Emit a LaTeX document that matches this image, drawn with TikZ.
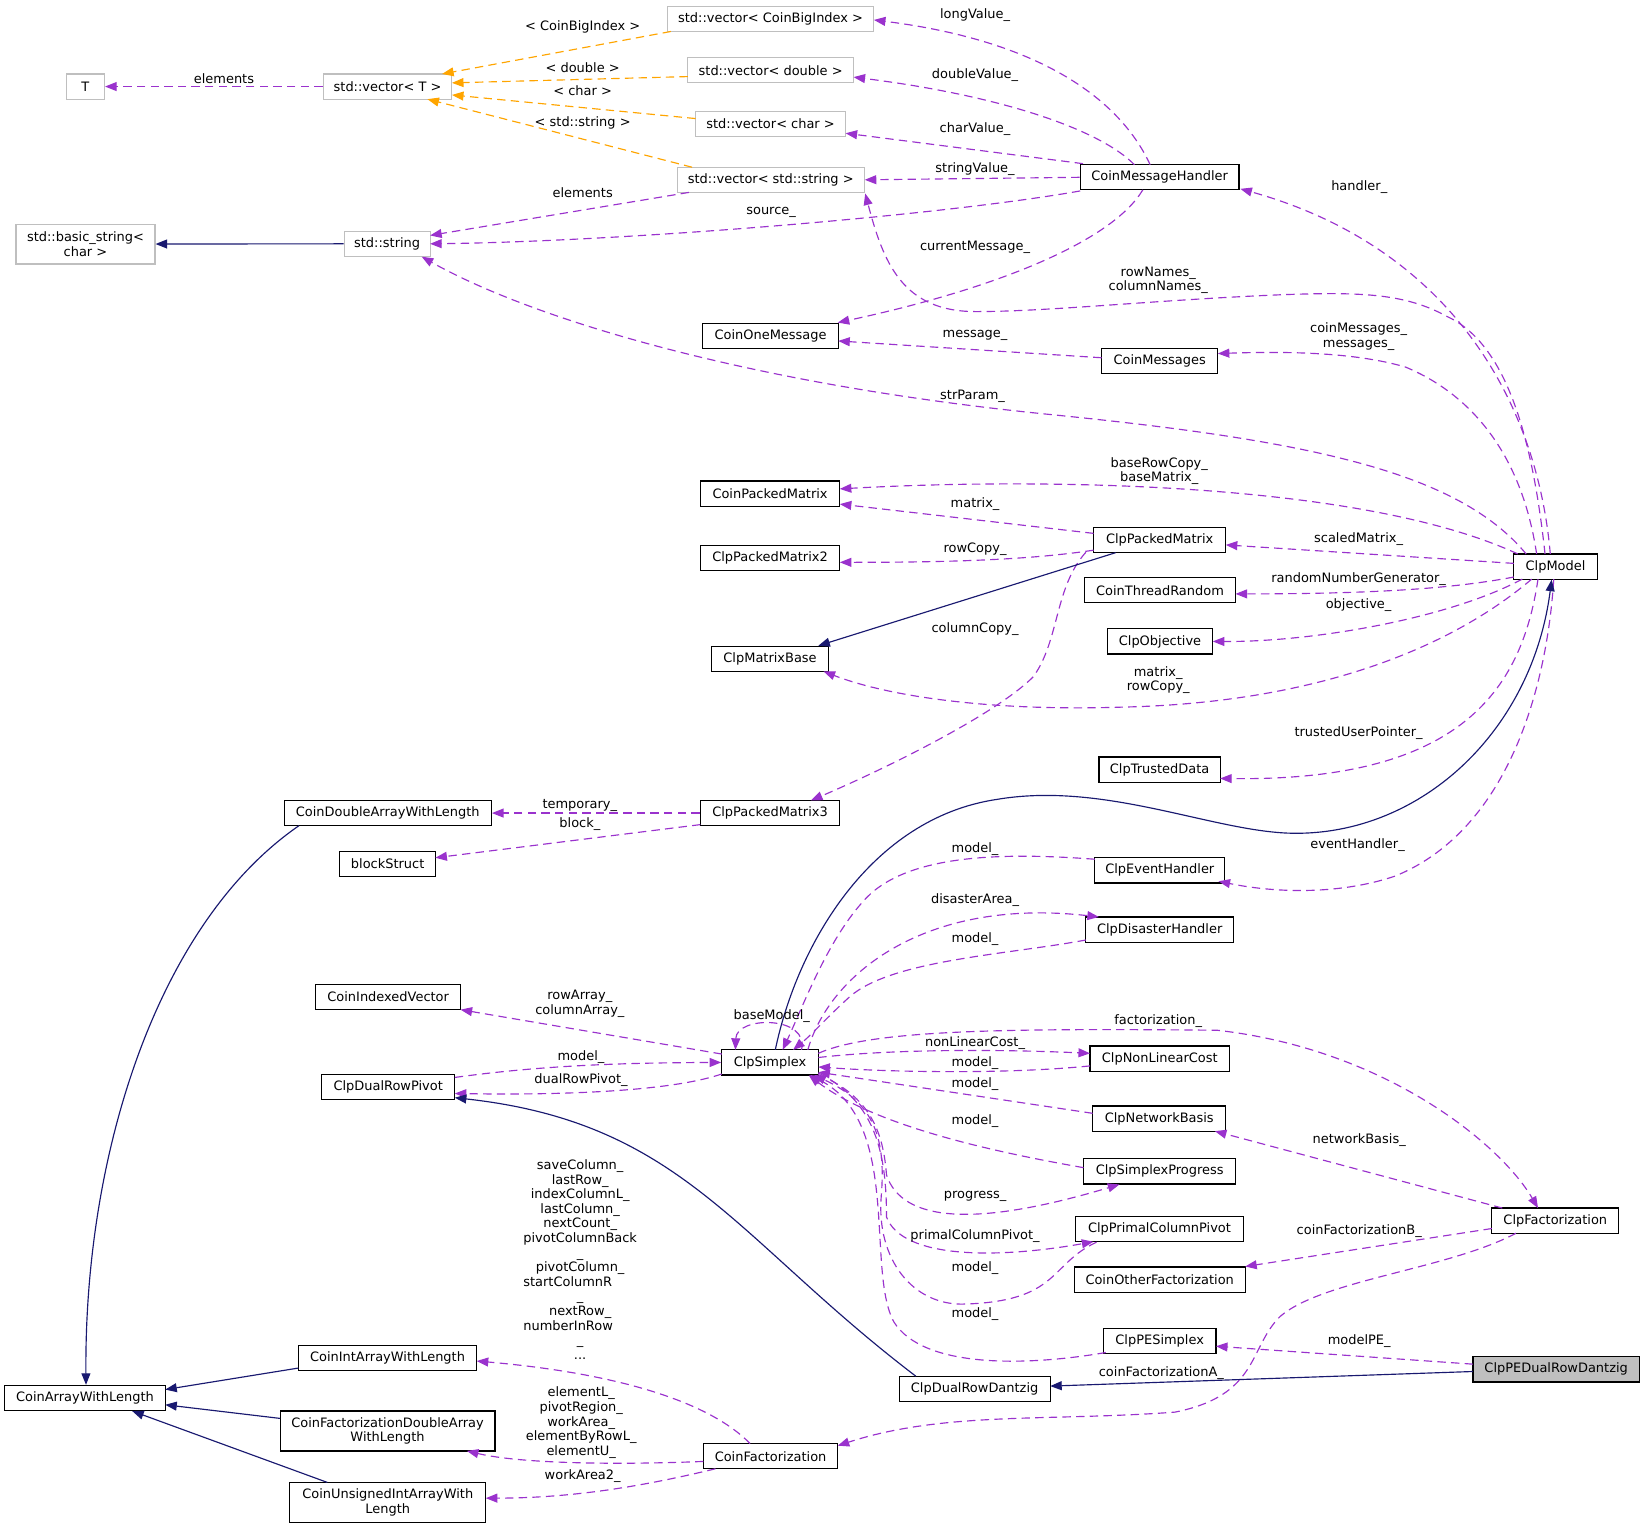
\documentclass[tikz,border=0pt]{standalone}
\usepackage{fontspec}
\setmainfont{DejaVu Sans}
\usetikzlibrary{arrows.meta,calc}
\definecolor{purp}{HTML}{9A32CD}
\definecolor{navyc}{HTML}{191970}
\definecolor{orng}{HTML}{FFA500}
\definecolor{boxgray}{HTML}{BFBFBF}
\newcommand\lblfont{\fontsize{12.35pt}{13.9pt}\selectfont}
\newcommand\leftln[1]{\makebox[0pt][l]{#1}\hphantom{pivotColumnBack}}
\begin{document}
\begin{tikzpicture}[x=1pt,y=-1pt,
  cls/.style={draw=black,line width=1.1pt,fill=white,minimum height=24pt,inner sep=1pt,align=center,font=\lblfont},
  ext/.style={cls,draw=boxgray},
  lab/.style={font=\lblfont,inner sep=0pt,align=center},
  arrowtip/.style={-{Triangle[length=11pt,width=8.5pt]}},
  usage/.style={arrowtip,draw=purp,line width=1.1pt,dash pattern=on 8pt off 5pt},
  inh/.style={arrowtip,draw=navyc,line width=1.1pt},
  tmpl/.style={arrowtip,draw=orng,line width=1.1pt,dash pattern=on 8pt off 5pt}
]
\useasboundingbox (0,0) rectangle (1568,1456);

% ---------- nodes ----------
\node[ext,minimum width=36.6pt] (T) at (81.3,82.5) {T};
\node[ext,minimum width=122.7pt] (vecT) at (369.4,82.5) {std::vector< T >};
\node[ext,minimum width=197pt] (vecCBI) at (734.5,18) {std::vector< CoinBigIndex >};
\node[ext,minimum width=158pt] (vecD) at (734.6,67) {std::vector< double >};
\node[ext,minimum width=143pt] (vecC) at (734.5,118) {std::vector< char >};
\node[ext,minimum width=178pt] (vecS) at (734.7,171.4) {std::vector< std::string >};
\node[ext,minimum width=132.4pt,minimum height=38pt] (basic) at (81.5,232.6) {std::basic\_string<\\char >};
\node[ext,minimum width=82pt] (str) at (369,232.4) {std::string};
\node[cls,minimum width=151.4pt] (CMH) at (1105.3,169) {CoinMessageHandler};
\node[cls,minimum width=129pt] (COM) at (734.5,320) {CoinOneMessage};
\node[cls,minimum width=110.7pt] (CMs) at (1105.4,344) {CoinMessages};
\node[cls,minimum width=133pt] (CPM) at (734,470.5) {CoinPackedMatrix};
\node[cls,minimum width=133pt] (CPM2) at (734,532) {ClpPackedMatrix2};
\node[cls,minimum width=126pt] (ClpPM) at (1105.4,514.4) {ClpPackedMatrix};
\node[cls,minimum width=144pt] (CTR) at (1105.7,562.6) {CoinThreadRandom};
\node[cls,minimum width=79.5pt] (ClpModel) at (1482.7,540) {ClpModel};
\node[cls,minimum width=100.7pt] (ClpObj) at (1105.7,611.4) {ClpObjective};
\node[cls,minimum width=111pt] (CMB) at (734,628) {ClpMatrixBase};
\node[cls,minimum width=115.4pt] (CTD) at (1105.3,733.5) {ClpTrustedData};
\node[cls,minimum width=197.6pt] (CDAWL) at (369.6,775) {CoinDoubleArrayWithLength};
\node[cls,minimum width=133pt] (CPM3) at (734,775) {ClpPackedMatrix3};
\node[cls,minimum width=91pt] (BS) at (369.5,823.6) {blockStruct};
\node[cls,minimum width=124pt] (CEH) at (1105.5,829.6) {ClpEventHandler};
\node[cls,minimum width=141.2pt] (CDH) at (1105.4,886) {ClpDisasterHandler};
\node[cls,minimum width=138pt] (CIV) at (370,950.4) {CoinIndexedVector};
\node[cls,minimum width=92pt] (CS) at (734,1012.7) {ClpSimplex};
\node[cls,minimum width=133pt] (CNLC) at (1105.5,1009) {ClpNonLinearCost};
\node[cls,minimum width=127pt] (CDRP) at (370,1036.3) {ClpDualRowPivot};
\node[cls,minimum width=127pt] (CNB) at (1105,1066.2) {ClpNetworkBasis};
\node[cls,minimum width=145pt] (CSP) at (1105.4,1116.5) {ClpSimplexProgress};
\node[cls,minimum width=121pt] (CFact) at (1482.5,1163.5) {ClpFactorization};
\node[cls,minimum width=160pt] (CPCP) at (1105.2,1171.6) {ClpPrimalColumnPivot};
\node[cls,minimum width=163pt] (COF) at (1105.4,1219.7) {CoinOtherFactorization};
\node[cls,minimum width=107.3pt] (CPES) at (1105.4,1278.2) {ClpPESimplex};
\node[cls,minimum width=169.7pt] (CIAWL) at (369.4,1294.3) {CoinIntArrayWithLength};
\node[cls,minimum width=158.6pt,fill=boxgray] (PEDRD) at (1483.3,1305.3) {ClpPEDualRowDantzig};
\node[cls,minimum width=153pt] (CAWL) at (81,1332.5) {CoinArrayWithLength};
\node[cls,minimum width=144pt] (CDRD) at (929,1324.2) {ClpDualRowDantzig};
\node[cls,minimum width=204.7pt,minimum height=38pt] (CFDAWL) at (369.4,1364) {CoinFactorizationDoubleArray\\WithLength};
\node[cls,minimum width=128pt] (CF) at (734.5,1388) {CoinFactorization};
\node[cls,minimum width=186.8pt,minimum height=38pt] (CUIAWL) at (369.6,1432) {CoinUnsignedIntArrayWith\\Length};

% ---------- template edges ----------
\draw[tmpl] ($(vecCBI)+(-95,12)$) -- ($(vecT)+(52,-12)$);
\draw[tmpl] ($(vecD)+(-79,6)$) -- ($(vecT)+(61.4,-3.5)$);
\draw[tmpl] ($(vecC)+(-71.5,-5)$) -- ($(vecT)+(61.4,8)$);
\draw[tmpl] ($(vecS)+(-75,-12)$) -- ($(vecT)+(38,12)$);

% ---------- usage edges ----------
\draw[usage] (vecT.west) -- (T.east);
\draw[usage] ($(vecS)+(-78,12)$) -- ($(str)+(41,-8)$);
\draw[usage] ($(CMH)+(-75.7,13)$) .. controls (900,205) and (600,230) .. ($(str)+(41,0)$);
\draw[usage] ($(CMH)+(-9,-12)$) .. controls (1070,100) and (1000,40) .. ($(vecCBI)+(98.5,1)$);
\draw[usage] ($(CMH)+(-24,-12)$) .. controls (1050,125) and (960,92) .. ($(vecD)+(79,6.5)$);
\draw[usage] ($(CMH)+(-73,-13)$) -- ($(vecC)+(71.5,9)$);
\draw[usage] (CMH.west) -- (vecS.east);
\draw[usage] ($(CMH)+(-16,12)$) .. controls (1060,230) and (950,275) .. ($(COM)+(64,-12.5)$);
\draw[usage] ($(ClpModel)+(-10,-12)$) .. controls (1462,430) and (1440,330) .. (1380,302) .. controls (1340,280) and (1300,278) .. (1220,281) .. controls (1100,286) and (1000,297) .. (930,297) .. controls (860,297) and (842,250) .. ($(vecS)+(90,13)$);
\draw[usage] ($(ClpModel)+(-5,-12)$) .. controls (1465,380) and (1380,235) .. ($(CMH)+(77,11)$);
\draw[usage] ($(CMs)+(-55.4,-3)$) -- ($(COM)+(64.5,5)$);
\draw[usage] ($(ClpModel)+(-18,-12)$) .. controls (1450,430) and (1400,375) .. (1340,350) .. controls (1290,335) and (1220,335) .. ($(CMs)+(55.4,-7)$);
\draw[usage] ($(ClpModel)+(-28,-12)$) .. controls (1390,450) and (1250,420) .. (1000,395) .. controls (700,365) and (500,300) .. ($(str)+(33,12.3)$);
\draw[usage] ($(ClpModel)+(-36,-12)$) .. controls (1300,460) and (1000,455) .. ($(CPM)+(66.5,-4.5)$);
\draw[usage] ($(ClpPM)+(-63,-6)$) -- ($(CPM)+(66.5,10)$);
\draw[usage] ($(ClpPM)+(-63,10)$) .. controls (980,534) and (900,536) .. ($(CPM2)+(66.5,4)$);
\draw[usage] ($(ClpModel)+(-39.7,-3)$) -- ($(ClpPM)+(63,5)$);
\draw[usage] ($(ClpModel)+(-39.7,10)$) .. controls (1380,562) and (1300,566) .. ($(CTR)+(72,3.5)$);
\draw[usage] ($(ClpModel)+(-31.7,12)$) .. controls (1380,590) and (1250,612) .. ($(ClpObj)+(50.3,0)$);
\draw[usage] ($(ClpModel)+(-22.7,12)$) .. controls (1380,620) and (1250,670) .. (1070,674) .. controls (950,678) and (850,665) .. ($(CMB)+(51,12)$);
\draw[usage] ($(ClpPM)+(-70.4,12)$) .. controls (1005,560) and (1010,610) .. (985,645) .. controls (950,680) and (850,730) .. ($(CPM3)+(39,-12)$);
\draw[usage] ($(ClpModel)+(-16.7,12)$) .. controls (1450,660) and (1390,745) .. ($(CTD)+(57.7,8.5)$);
\draw[usage] (CPM3.west) -- (CDAWL.east);
\draw[usage] ($(CPM3)+(-66.4,11)$) -- ($(BS)+(45.5,-6)$);
\draw[usage] ($(ClpModel)+(-1.7,12)$) .. controls (1475,650) and (1440,790) .. (1330,835) .. controls (1280,852) and (1220,852) .. ($(CEH)+(56,10.4)$);
\draw[usage] ($(CEH)+(-62,-10.6)$) .. controls (950,812) and (860,815) .. (822,860) .. controls (788,898) and (765,960) .. ($(CS)+(12,-12)$);
\draw[usage] ($(CS)+(36,-12)$) .. controls (790,930) and (880,855) .. ($(CDH)+(-58,-12)$);
\draw[usage] ($(CDH)+(-70.4,10)$) .. controls (960,910) and (850,915) .. (810,950) .. controls (790,968) and (775,985) .. ($(CS)+(22,-12)$);
\draw[usage] ($(CS)+(-46,-8)$) -- ($(CIV)+(69,12)$);
\draw[usage] ($(CS)+(30,-12)$) .. controls (772,968) and (702,968) .. ($(CS)+(-33,-12)$);
\draw[usage] ($(CS)+(46,-8.7)$) .. controls (830,982) and (950,980) .. (1160,982) .. controls (1320,1000) and (1430,1090) .. ($(CFact)+(-16.5,-12)$);
\draw[usage] ($(CS)+(46,-4.7)$) .. controls (850,1000) and (950,1000) .. ($(CNLC)+(-66.5,-5)$);
\draw[usage] ($(CNLC)+(-66.5,7)$) .. controls (960,1024) and (850,1022) .. ($(CS)+(46,4.3)$);
\draw[usage] ($(CNB)+(-63.5,-5)$) -- ($(CS)+(46,9.3)$);
\draw[usage] ($(CSP)+(-72.5,-3.5)$) .. controls (930,1095) and (830,1070) .. ($(CS)+(37,12.3)$);
\draw[usage] ($(CS)+(46,11.5)$) .. controls (830,1045) and (842,1080) .. (845,1120) .. controls (860,1165) and (930,1170) .. ($(CSP)+(-38.4,12.5)$);
\draw[usage] ($(CS)+(46,10)$) .. controls (835,1050) and (845,1100) .. (845,1160) .. controls (860,1200) and (950,1200) .. ($(CPCP)+(-63,12)$);
\draw[usage] ($(CPCP)+(-60,12.4)$) .. controls (1000,1205) and (1010,1240) .. (920,1243) .. controls (870,1245) and (835,1200) .. (840,1140) .. controls (845,1080) and (830,1050) .. ($(CS)+(42,12)$);
\draw[usage] ($(CPES)+(-51.4,11)$) .. controls (980,1302) and (880,1305) .. (852,1260) .. controls (825,1210) and (860,1070) .. ($(CS)+(38,12)$);
\draw[usage] ($(CDRP)+(63.5,-9.3)$) .. controls (520,1015) and (600,1013) .. (CS.west);
\draw[usage] ($(CS)+(-46,11)$) .. controls (640,1040) and (540,1044) .. ($(CDRP)+(63.5,6)$);
\draw[usage] ($(CFact)+(-50.5,-12)$) -- ($(CNB)+(53,12)$);
\draw[usage] ($(CFact)+(-60.5,7.5)$) -- ($(COF)+(81.5,-12.5)$);
\draw[usage] ($(CFact)+(-37.5,12)$) .. controls (1380,1210) and (1260,1220) .. (1220,1255) .. controls (1190,1285) and (1200,1330) .. (1120,1346) .. controls (1000,1355) and (900,1345) .. ($(CF)+(64,-10)$);
\draw[usage] ($(PEDRD)+(-79.3,-5)$) -- ($(CPES)+(53.6,5)$);
\draw[usage] ($(CF)+(-19.5,-12)$) .. controls (680,1340) and (600,1310) .. ($(CIAWL)+(85,3)$);
\draw[usage] ($(CF)+(-64,5)$) .. controls (600,1396) and (500,1396) .. ($(CFDAWL)+(75.6,19)$);
\draw[usage] ($(CF)+(-52.5,12)$) .. controls (620,1415) and (550,1428) .. ($(CUIAWL)+(93.4,-4)$);

% ---------- inheritance edges ----------
\draw[inh] (str.west) -- (basic.east);
\draw[inh] ($(ClpPM)+(-42,12.4)$) -- ($(CMB)+(46,-12.5)$);
\draw[inh] ($(CS)+(5,-12)$) .. controls (760,900) and (830,780) .. (950,762) .. controls (1050,745) and (1150,790) .. (1225,794) .. controls (1350,800) and (1460,700) .. ($(ClpModel)+(-3.7,12.5)$);
\draw[inh] ($(CDAWL)+(-84.6,12)$) .. controls (150,880) and (80,1100) .. ($(CAWL)+(1,-12.5)$);
\draw[inh] ($(CIAWL)+(-85,9.7)$) -- ($(CAWL)+(76.5,-8)$);
\draw[inh] ($(CFDAWL)+(-102.4,-12)$) -- ($(CAWL)+(76.5,6.5)$);
\draw[inh] ($(CUIAWL)+(-57.6,-19)$) -- ($(CAWL)+(45,12.5)$);
\draw[inh] ($(CDRD)+(-56,-12.4)$) .. controls (700,1180) and (650,1070) .. ($(CDRP)+(63.5,10)$);
\draw[inh] ($(PEDRD)+(-79.3,2)$) -- ($(CDRD)+(72,-3)$);

% ---------- labels ----------
\node[lab] (l01) at (555.4,26) {< CoinBigIndex >};
\node[lab] (l02) at (555.4,64.5) {< double >};
\node[lab] (l03) at (555.4,86.8) {< char >};
\node[lab] (l04) at (555.4,117) {< std::string >};
\node[lab] (l05) at (213.5,75.3) {elements};
\node[lab] (l06) at (555.4,183.7) {elements};
\node[lab] (l07) at (735,202) {source\_};
\node[lab] (l08) at (929.4,14.3) {longValue\_};
\node[lab] (l09) at (929.4,71.5) {doubleValue\_};
\node[lab] (l10) at (929.4,123) {charValue\_};
\node[lab] (l11) at (929.4,161) {stringValue\_};
\node[lab] (l12) at (1295.6,178) {handler\_};
\node[lab] (l13) at (929.4,235.8) {currentMessage\_};
\node[lab] (l14) at (1104,267) {rowNames\_\\columnNames\_};
\node[lab] (l15) at (929.4,320) {message\_};
\node[lab] (l16) at (1295,321) {coinMessages\_\\messages\_};
\node[lab] (l17) at (927,377.5) {strParam\_};
\node[lab] (l18) at (1105,449) {baseRowCopy\_\\baseMatrix\_};
\node[lab] (l19) at (929.4,480.4) {matrix\_};
\node[lab] (l20) at (929.4,523.4) {rowCopy\_};
\node[lab] (l21) at (1295,513.8) {scaledMatrix\_};
\node[lab] (l22) at (1295,552) {randomNumberGenerator\_};
\node[lab] (l23) at (1295,576.7) {objective\_};
\node[lab] (l24) at (929.4,600) {columnCopy\_};
\node[lab] (l25) at (1104,648.4) {matrix\_\\rowCopy\_};
\node[lab] (l26) at (1295,698.4) {trustedUserPointer\_};
\node[lab] (l27) at (552.7,767.4) {temporary\_};
\node[lab] (l28) at (552.7,785.8) {block\_};
\node[lab] (l29) at (1294,805.5) {eventHandler\_};
\node[lab] (l30) at (929.4,809) {model\_};
\node[lab] (l31) at (929.4,857.6) {disasterArea\_};
\node[lab] (l32) at (929.4,894.7) {model\_};
\node[lab] (l33) at (552.7,957) {rowArray\_\\columnArray\_};
\node[lab] (l34) at (735.6,968.5) {baseModel\_};
\node[lab] (l35) at (1104,973) {factorization\_};
\node[lab] (l36) at (929.4,994) {nonLinearCost\_};
\node[lab] (l37) at (929.4,1013) {model\_};
\node[lab] (l38) at (929.4,1033) {model\_};
\node[lab] (l39) at (929.4,1068.6) {model\_};
\node[lab] (l40) at (1295.6,1086.4) {networkBasis\_};
\node[lab] (l41) at (929.4,1140) {progress\_};
\node[lab] (l42) at (929.4,1178) {primalColumnPivot\_};
\node[lab] (l43) at (1295.6,1173) {coinFactorizationB\_};
\node[lab] (l44) at (929.4,1209) {model\_};
\node[lab] (l45) at (929.4,1253) {model\_};
\node[lab] (l46) at (1295.6,1278) {modelPE\_};
\node[lab] (l47) at (1107,1309) {coinFactorizationA\_};
\node[lab] (l48) at (553.8,1007.3) {model\_};
\node[lab] (l49) at (553.8,1029.2) {dualRowPivot\_};
\node[lab] (l50) at (553,1200.5) {saveColumn\_\\lastRow\_\\indexColumnL\_\\lastColumn\_\\nextCount\_\\pivotColumnBack\\\_\\pivotColumn\_\\\leftln{startColumnR}\\\_\\nextRow\_\\\leftln{numberInRow}\\\_\\...};
\node[lab] (l51) at (554,1356) {elementL\_\\pivotRegion\_\\workArea\_\\elementByRowL\_\\elementU\_};
\node[lab] (l52) at (555.4,1406.7) {workArea2\_};
\end{tikzpicture}
\end{document}
